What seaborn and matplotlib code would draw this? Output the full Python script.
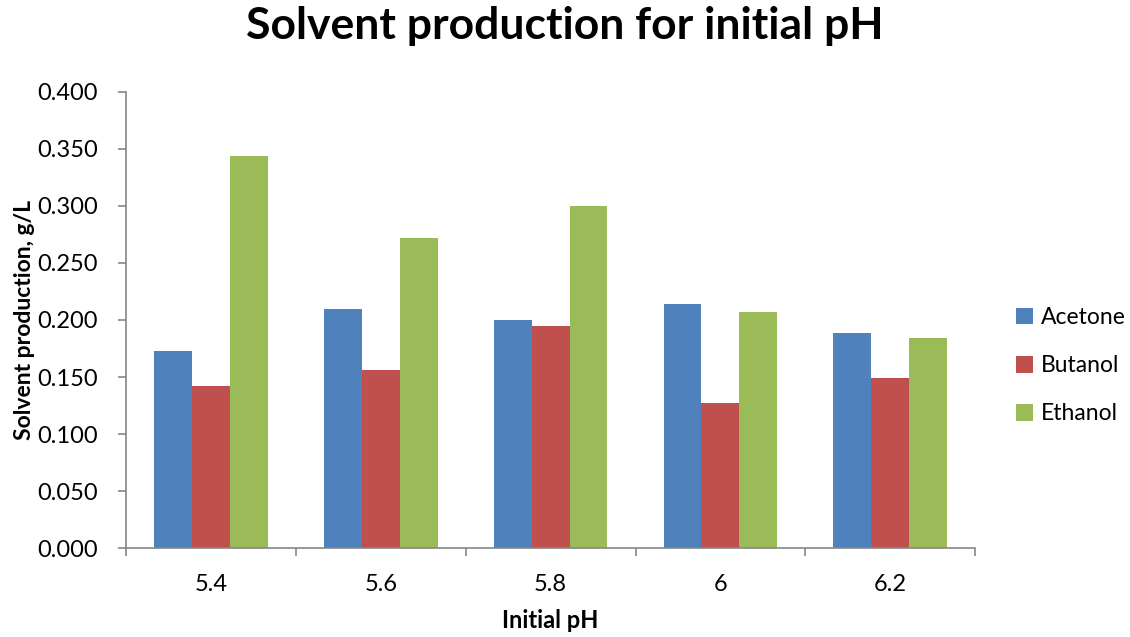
import matplotlib
matplotlib.use("Agg")
import matplotlib.pyplot as plt
import seaborn as sns
import pandas as pd
import numpy as np

ph_levels = ["5.4", "5.6", "5.8", "6", "6.2"]
acetone = [0.173, 0.210, 0.200, 0.214, 0.189]
butanol = [0.142, 0.156, 0.195, 0.127, 0.149]
ethanol = [0.344, 0.272, 0.300, 0.207, 0.184]
solvents = ["Acetone", "Butanol", "Ethanol"]
colors = ["#4F81BD", "#C0504D", "#9BBB59"]

df = pd.DataFrame({
    "pH": ph_levels * 3,
    "Solvent": [s for s in solvents for _ in ph_levels],
    "Value": acetone + butanol + ethanol,
})

sns.set_theme(style="white")
plt.rcParams["font.family"] = ["Lato", "DejaVu Sans"]
plt.rcParams["text.color"] = "black"
plt.rcParams["xtick.color"] = "black"
plt.rcParams["ytick.color"] = "black"
plt.rcParams["axes.labelcolor"] = "black"

fig = plt.figure(figsize=(11.3, 6.37), dpi=100)
ax = fig.add_axes([0.1115, 0.1397, 0.7515, 0.7159])

sns.barplot(data=df, x="pH", y="Value", hue="Solvent", order=ph_levels,
            hue_order=solvents, palette=colors, width=0.67, gap=0,
            saturation=1, ax=ax, linewidth=0)

ax.set_xlim(-0.5, len(ph_levels) - 0.5)
ax.set_ylim(0, 0.4)
ax.set_yticks(np.arange(0, 0.401, 0.05))
ax.yaxis.set_major_formatter(matplotlib.ticker.FormatStrFormatter("%.3f"))

gray = "#868686"
for side in ["top", "right"]:
    ax.spines[side].set_visible(False)
for side in ["left", "bottom"]:
    ax.spines[side].set_color(gray)
    ax.spines[side].set_linewidth(1.2)

ax.tick_params(axis="y", which="major", direction="out", length=6, width=1.2,
               color=gray, labelcolor="black", labelsize=17, left=True, pad=14)
ax.tick_params(axis="x", which="major", length=0, labelsize=17, pad=19,
               labelcolor="black")
ax.set_xticks(np.arange(-0.5, len(ph_levels), 1.0), minor=True)
ax.tick_params(axis="x", which="minor", direction="out", length=6, width=1.2,
               color=gray, bottom=True)

ax.set_xlabel("Initial pH", fontsize=17, fontweight="bold", labelpad=10)
ax.set_ylabel("Solvent production, g/L", fontsize=16.5, fontweight="bold", labelpad=2)
fig.suptitle("Solvent production for initial pH", fontsize=32, fontweight="bold",
             x=0.5, y=0.99)

leg = ax.legend(loc="center left", bbox_to_anchor=(1.048, 0.4), frameon=False,
                borderaxespad=0, borderpad=0,
                fontsize=16.5, handlelength=0.75, handleheight=0.75,
                labelspacing=1.18, handletextpad=0.35)

fig.savefig("out.png", dpi=100)
